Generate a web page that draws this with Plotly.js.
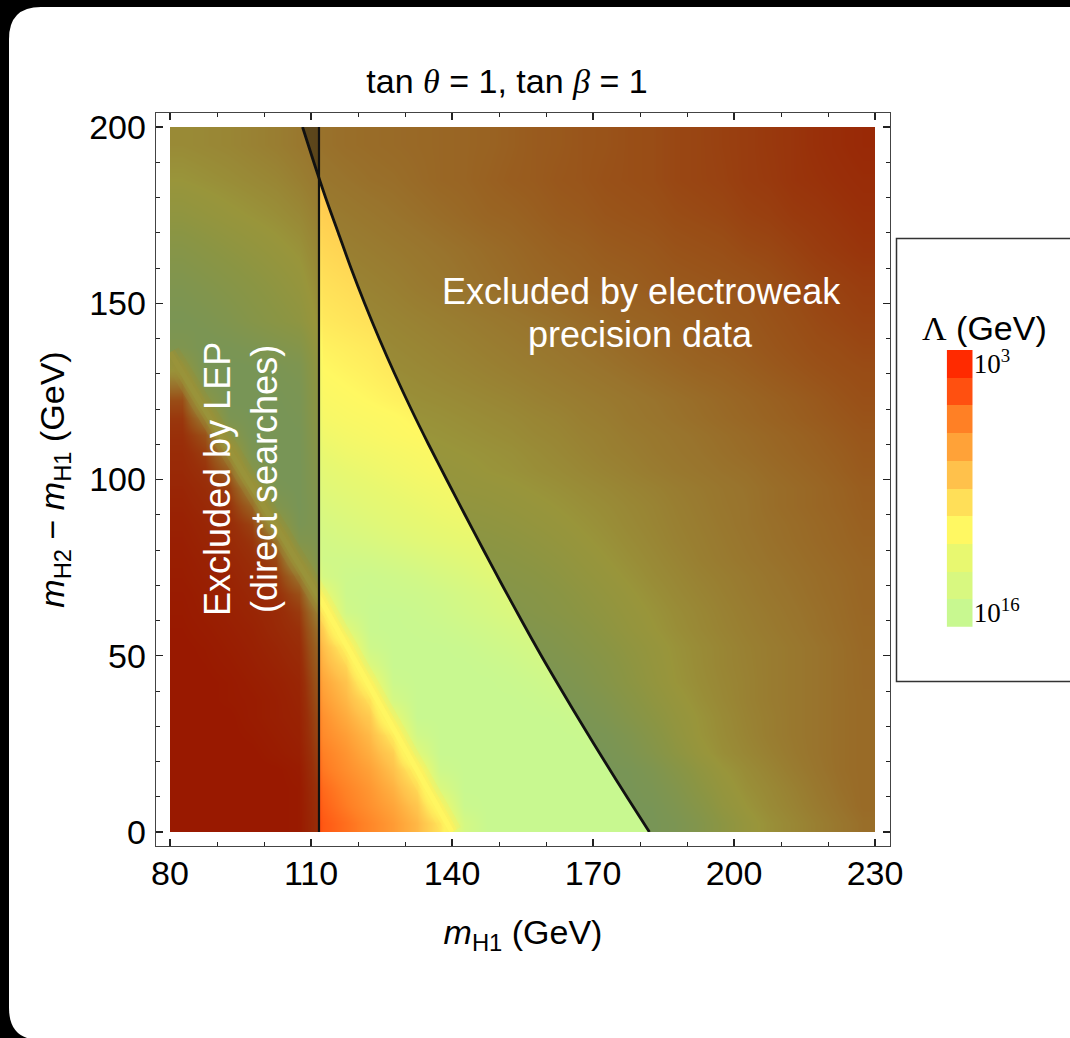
<!DOCTYPE html>
<html>
<head>
<meta charset="utf-8">
<script src="https://cdn.plot.ly/plotly-3.0.1.min.js"></script>
<style>
html,body{margin:0;padding:0;background:#000;}
#chart{width:1070px;height:1038px;}
</style>
</head>
<body>
<div id="chart"></div>
<script>
// ---------------- data ----------------
// grid centres: m_H1 (GeV) and m_H2 - m_H1 (GeV)
const massH1 = [82.5,87.5,92.5,97.5,102.5,107.5,112.5,117.5,122.5,127.5,132.5,137.5,142.5,147.5,152.5,157.5,162.5,167.5,172.5,177.5,182.5,187.5,192.5,197.5,202.5,207.5,212.5,217.5,222.5,227.5];
const massSplit = [2.5,7.5,12.5,17.5,22.5,27.5,32.5,37.5,42.5,47.5,52.5,57.5,62.5,67.5,72.5,77.5,82.5,87.5,92.5,97.5,102.5,107.5,112.5,117.5,122.5,127.5,132.5,137.5,145,155,165,175,185,195];
// log10(Lambda/GeV) estimated from colours, one row per massSplit value
const lambdaExp = [
 [3.0,3.0,3.0,3.0,3.0,3.1, 4.6,5.1,5.7,6.3,7.2,9.0, 14.5,16,16,16,16,16,16,16, 16,15.2,13.8,11.9,10.5,9.6,8.9,8.3,7.7,7.2],
 [3.0,3.0,3.0,3.0,3.0,3.1, 4.8,5.4,6.0,6.6,7.7,11.0, 15.7,16,16,16,16,16,16,16, 15.8,14.6,12.9,11.1,10.0,9.2,8.6,8.0,7.45,7.0],
 [3.0,3.0,3.0,3.0,3.0,3.1, 5.0,5.6,6.2,7.0,8.5,13.8, 16,16,16,16,16,16,16,16, 15.3,13.9,12.0,10.6,9.6,9.0,8.4,7.8,7.3,7.0],
 [3.0,3.0,3.0,3.0,3.0,3.2, 5.3,5.9,6.5,7.5,9.7,15.4, 16,16,16,16,16,16,16, 15.8,14.7,13.0,11.3,10.1,9.3,8.7,8.1,7.6,7.2,7.0],
 [3.0,3.0,3.0,3.0,3.2,3.4, 5.5,6.1,6.9,8.1, 13.0,16,16,16,16,16,16,16, 15.9,15.0,13.5,11.8,10.4,9.5,8.9,8.4,7.9,7.5,7.2,7.0],
 [3.0,3.0,3.0,3.1,3.3,3.5, 5.8,6.4,7.3,9.3, 15.0,16,16,16,16,16,16, 15.9,15.5,14.4,12.8,11.2,10.0,9.3,8.7,8.2,7.8,7.5,7.2,7.0],
 [3.0,3.0,3.0,3.2,3.4,3.6, 6.0,6.8,7.9, 12.0,16,16,16,16,16,16, 15.9,15.5,14.7,13.4,12.0,10.8,9.9,9.2,8.6,8.2,7.8,7.5,7.2,7.0],
 [3.0,3.0,3.1,3.2,3.4,3.7, 6.3,7.2,8.8, 14.5,16,16,16,16,16,15.8,15.5, 15.0,14.0,12.7,11.4,10.4,9.6,9.0,8.5,8.1,7.8,7.5,7.2,7.0],
 [3.0,3.0,3.1,3.3,3.5,3.8, 6.6,7.6,10.8, 15.6,16,16,16,16,15.8,15.5,15.0, 14.3,13.2,12.0,10.9,10.0,9.4,8.9,8.5,8.1,7.8,7.5,7.2,6.95],
 [3.0,3.05,3.2,3.4,3.65,4.0, 7.0,8.4,13.6, 16,16,16,16,15.8,15.5,15.0, 14.5,13.8,12.8,11.7,10.7,9.9,9.3,8.8,8.45,8.1,7.8,7.5,7.2,6.95],
 [3.0,3.1,3.3,3.5,3.8,4.2, 7.4,9.6,15.3, 16,16,16,15.8,15.4,15.0,14.5, 13.9,13.1,12.2,11.3,10.5,9.8,9.25,8.8,8.4,8.1,7.8,7.5,7.2,6.9],
 [3.05,3.2,3.4,3.6,4.0,4.45, 8.1,12.8,15.9,16,15.9,15.7,15.3,14.9,14.4, 13.9,13.3,12.5,11.6,10.8,10.1,9.5,9.0,8.6,8.25,7.95,7.65,7.35,7.1,6.85],
 [3.1,3.3,3.5,3.75,4.1,4.8, 9.2,15.0,15.9,16,15.7,15.3,14.8,14.3,13.7, 13.2,12.6,11.9,11.2,10.5,9.9,9.35,8.9,8.5,8.15,7.85,7.55,7.3,7.05,6.8],
 [3.15,3.35,3.6,3.9,4.35,5.6, 11.8,15.5,15.7,15.6,15.4,15.0,14.4,13.9, 13.2,12.8,12.2,11.5,10.8,10.2,9.6,9.1,8.7,8.35,8.0,7.7,7.45,7.2,7.0,6.75],
 [3.25,3.45,3.7,4.1,4.7,7.5, 14.5,15.4,15.5,15.2,14.8,14.2,13.7,13.0, 12.65,12.25,11.65,11.0,10.4,9.85,9.3,8.9,8.5,8.2,7.9,7.6,7.35,7.15,6.95,6.72],
 [3.3,3.55,3.85,4.3,5.3,11.0, 15.0,15.0,14.8,14.4,13.9,13.4,12.9, 12.4,12.1,11.7,11.2,10.6,10.05,9.55,9.1,8.7,8.3,8.0,7.7,7.45,7.25,7.05,6.85,6.65],
 [3.4,3.7,4.05,4.6,6.9,14.0, 14.7,14.3,13.9,13.4,12.9,12.5,12.1, 11.9,11.6,11.2,10.7,10.2,9.75,9.3,8.9,8.5,8.2,7.9,7.6,7.35,7.15,6.95,6.75,6.55],
 [3.5,3.8,4.2,5.1,10.5,15.5, 14.2,13.7,13.2,12.7,12.3,11.9,11.6, 11.4,11.1,10.7,10.3,9.9,9.5,9.1,8.75,8.4,8.1,7.8,7.5,7.3,7.1,6.9,6.7,6.45],
 [3.65,4.0,4.5,6.6,13.8,16, 13.6,13.1,12.6,12.2,11.8,11.4, 11.1,10.9,10.6,10.3,9.95,9.6,9.3,8.95,8.65,8.3,8.0,7.7,7.5,7.2,7.0,6.8,6.6,6.35],
 [3.8,4.2,5.0,8.9,15.5,16, 13.0,12.5,12.1,11.7,11.3,11.0, 10.6,10.45,10.2,9.9,9.6,9.3,9.0,8.7,8.45,8.15,7.9,7.65,7.45,7.2,7.0,6.8,6.55,6.3],
 [4.0,4.5,6.3,13.2,16,16, 12.5,12.0,11.6,11.2,10.85,10.5, 10.3,10.0,9.8,9.5,9.25,8.95,8.65,8.4,8.1,7.85,7.65,7.45,7.3,7.05,6.85,6.65,6.4,6.15],
 [4.15,4.9,8.3,15.2,16,16, 11.9,11.4,11.1,10.8,10.5, 10.2,10.0,9.8,9.6,9.3,9.0,8.7,8.4,8.2,7.9,7.7,7.5,7.3,7.1,6.9,6.7,6.5,6.3,6.05],
 [4.4,5.7,12.3,16,16,15.9, 11.3,10.9,10.6,10.3,10.05, 9.9,9.7,9.5,9.3,9.0,8.8,8.5,8.3,8.0,7.8,7.6,7.4,7.2,7.0,6.8,6.6,6.4,6.15,5.95],
 [4.7,8.0,15.0,16,16,15.7, 10.8,10.5,10.3,10.1,9.8, 9.65,9.45,9.25,9.05,8.8,8.6,8.3,8.1,7.8,7.6,7.4,7.2,7.0,6.8,6.6,6.4,6.2,6.0,5.8],
 [5.5,11.8,16,16,15.9,15.5, 10.45,10.2,9.95,9.7, 9.5,9.35,9.15,8.95,8.75,8.5,8.3,8.1,7.9,7.7,7.5,7.3,7.1,6.9,6.7,6.5,6.3,6.1,5.85,5.65],
 [7.7,14.7,16,16,15.7,15.2, 10.2,9.95,9.7,9.45, 9.25,9.05,8.85,8.65,8.45,8.25,8.05,7.85,7.65,7.45,7.25,7.05,6.85,6.7,6.5,6.3,6.1,5.9,5.7,5.55],
 [11.0,16,16,15.8,15.3,14.7, 9.95,9.7,9.5, 9.2,9.0,8.8,8.6,8.4,8.2,8.0,7.8,7.6,7.4,7.2,7.0,6.8,6.6,6.5,6.3,6.1,5.9,5.7,5.55,5.45],
 [14.5,15.7,15.5,15.0,14.2,13.4, 9.7,9.5,9.3, 9.0,8.8,8.6,8.4,8.2,8.0,7.8,7.6,7.4,7.2,7.0,6.8,6.6,6.45,6.3,6.15,5.95,5.75,5.55,5.45,5.3],
 [15.5,15.0,14.2,13.2,12.3,11.5, 9.3,9.1,8.9, 8.7,8.5,8.3,8.1,7.9,7.7,7.5,7.3,7.1,6.9,6.7,6.6,6.4,6.3,6.1,6.0,5.8,5.6,5.4,5.25,5.1],
 [14.5,13.8,13.0,12.2,11.4,10.6, 8.9,8.7, 8.5,8.3,8.0,7.8,7.5,7.3,7.1,6.9,6.8,6.6,6.5,6.4,6.2,6.1,6.0,5.9,5.8,5.6,5.4,5.2,5.05,4.9],
 [13.0,12.3,11.6,11.0,10.4,9.8, 8.5,8.3, 8.1,7.9,7.7,7.5,7.3,7.1,6.9,6.7,6.5,6.4,6.2,6.1,6.0,5.8,5.7,5.6,5.4,5.3,5.1,4.9,4.75,4.6],
 [11.3,10.8,10.3,9.9,9.5,9.0, 8.1, 7.9,7.7,7.5,7.3,7.1,6.9,6.7,6.6,6.4,6.2,6.1,5.9,5.8,5.7,5.5,5.4,5.3,5.1,5.0,4.8,4.7,4.55,4.4],
 [10.0,9.7,9.4,9.1,8.8,8.3, 7.7,7.5,7.3,7.2,7.0,6.8,6.7,6.5,6.3,6.2,6.0,5.9,5.7,5.6,5.5,5.3,5.2,5.1,4.9,4.8,4.6,4.5,4.35,4.2],
 [9.2,9.0,8.8,8.5,8.2,7.8, 7.4,7.2,7.1,7.0,6.9,6.8,6.7,6.6,6.4,6.2,6.1,5.9,5.8,5.6,5.5,5.3,5.2,5.05,4.9,4.75,4.6,4.4,4.2,4.0]
];
// legend blocks: log10(Lambda) level of each block and its colour (top = 10^3)
const lambdaLevels = [3, 4.4, 5.5, 6.5, 7.5, 8.8, 10, 12, 14, 16];
const levelColors = ['#ff2a00','#ff5010','#ff8025','#ffa238','#ffc14b','#ffdf58','#fff862','#e8f870','#d8f880','#c8f890'];
const legendTickText = ['10<sup>3</sup>', '10<sup>16</sup>'];
// LEP direct-search limit on m_H1 (GeV)
const lepLimit = 111.7;
// electroweak precision boundary (m_H1, m_H2 - m_H1)
const ewBoundaryX = [182.0,177.2,172.5,167.9,163.4,159.0,154.8,150.7,146.7,142.75,138.85,135.0,131.3,127.8,124.5,121.4,118.5,115.8,113.1,110.6,108.2];
const ewBoundaryY = [0,10,20,30,40,50,60,70,80,90,100,110,120,130,140,150,160,170,180,190,200];
// yellow ridge where Lambda jumps from low to high values
const ridgeX = [80, 112, 140];
const ridgeY = [136, 66, 0];
// plotted region
const regionX = [80, 230];
const regionY = [0, 200];
const xTickVals = [80, 110, 140, 170, 200, 230];
const yTickVals = [0, 50, 100, 150, 200];

// ---------------- layout helpers (pixels -> paper fractions) ----------------
const W = 1070, H = 1038;
const fx = p => p / W;
const fy = p => 1 - p / H;
const P = (x, y) => fx(x) + ',' + fy(y);

const zMin = lambdaLevels[0], zMax = lambdaLevels[lambdaLevels.length - 1];
const colorscale = lambdaLevels.map((v, i) => [(v - zMin) / (zMax - zMin), levelColors[i]]);

// frame and data area in pixels
const frame = {l: 156, r: 890, t: 113, b: 846};
const dataPx = {l: 170, r: 875, t: 127, b: 832};
const xPerPx = (regionX[1] - regionX[0]) / (dataPx.r - dataPx.l);
const yPerPx = (regionY[1] - regionY[0]) / (dataPx.b - dataPx.t);

const D = {xaxis: 'x3', yaxis: 'y3', hoverinfo: 'skip'};   // data subplot (clipped to the data area)
const traces = [];
// frame subplot placeholder
traces.push({type: 'scatter', mode: 'markers', x: [null], y: [null], xaxis: 'x', yaxis: 'y', hoverinfo: 'skip'});
traces.push(Object.assign({
  type: 'heatmap', x: massH1, y: massSplit, z: lambdaExp,
  zmin: zMin, zmax: zMax, colorscale: colorscale, zsmooth: 'best', showscale: false
}, D));
// soft yellow ridge (drawn under the exclusion shading)
[[20, 'rgba(255,232,88,0.28)'], [11, 'rgba(255,240,92,0.55)'], [5, 'rgba(255,246,98,0.9)']].forEach(([w, c]) => {
  traces.push(Object.assign({type: 'scatter', mode: 'lines', x: ridgeX, y: ridgeY, line: {color: c, width: w}}, D));
});
// LEP excluded shading
traces.push(Object.assign({
  type: 'scatter', mode: 'lines',
  x: [regionX[0], lepLimit, lepLimit, regionX[0]],
  y: [regionY[0], regionY[0], regionY[1], regionY[1]],
  fill: 'toself', fillcolor: 'rgba(0,0,0,0.4)', line: {width: 0}
}, D));
// EW excluded shading
traces.push(Object.assign({
  type: 'scatter', mode: 'lines',
  x: ewBoundaryX.concat([regionX[1], regionX[1]]),
  y: ewBoundaryY.concat([regionY[1], regionY[0]]),
  fill: 'toself', fillcolor: 'rgba(0,0,0,0.4)', line: {width: 0}
}, D));
// boundary lines
traces.push(Object.assign({
  type: 'scatter', mode: 'lines',
  x: ewBoundaryX, y: ewBoundaryY, line: {color: '#111', width: 2.8, shape: 'spline', smoothing: 0.8}
}, D));
traces.push(Object.assign({
  type: 'scatter', mode: 'lines',
  x: [lepLimit, lepLimit], y: regionY, line: {color: '#111', width: 2.2}
}, D));
// legend colour blocks
traces.push({
  type: 'heatmap', x: ['c'], y: lambdaLevels.map(v => 'L' + v),
  z: lambdaLevels.map(v => [v]), zmin: zMin, zmax: zMax, colorscale: colorscale,
  showscale: false, hoverinfo: 'skip', xaxis: 'x2', yaxis: 'y2', xgap: 0, ygap: 0
});

const sans = 'Liberation Sans, Arial, Helvetica, sans-serif';
const serif = 'Liberation Serif, Times New Roman, serif';

const r = 32, cx0 = 9, cy0 = 7, cx1 = 1100, cy1 = 1040;
const cardPath = 'M' + P(cx0 + r, cy0) + ' L' + P(cx1 - r, cy0) + ' Q' + P(cx1, cy0) + ' ' + P(cx1, cy0 + r) +
  ' L' + P(cx1, cy1 - r) + ' Q' + P(cx1, cy1) + ' ' + P(cx1 - r, cy1) +
  ' L' + P(cx0 + r, cy1) + ' Q' + P(cx0, cy1) + ' ' + P(cx0, cy1 - r) +
  ' L' + P(cx0, cy0 + r) + ' Q' + P(cx0, cy0) + ' ' + P(cx0 + r, cy0) + ' Z';

const layout = {
  width: W, height: H,
  margin: {l: 0, r: 0, t: 0, b: 0, pad: 0},
  paper_bgcolor: '#000', plot_bgcolor: '#fff',
  showlegend: false,
  font: {family: sans, color: '#000', size: 34},
  title: {
    text: 'tan <span style="font-family:Liberation Serif"><i>θ</i></span> = 1, tan <span style="font-family:Liberation Serif"><i>β</i></span> = 1',
    x: fx(507), y: fy(80.7), xref: 'container', yref: 'container',
    xanchor: 'center', yanchor: 'middle', font: {family: sans, size: 34, color: '#000'}
  },
  xaxis: {
    domain: [fx(frame.l), fx(frame.r)],
    range: [regionX[0] - (dataPx.l - frame.l) * xPerPx, regionX[1] + (frame.r - dataPx.r) * xPerPx],
    tickmode: 'array', tickvals: xTickVals,
    ticks: 'inside', ticklen: 7, tickwidth: 1.2, tickcolor: '#222',
    minor: {tickmode: 'linear', tick0: regionX[0], dtick: 10, ticks: 'inside', ticklen: 4, tickwidth: 1, tickcolor: '#222', showgrid: false},
    showline: true, linecolor: '#444', linewidth: 1.3, mirror: 'ticks',
    showgrid: false, zeroline: false, fixedrange: true,
    tickfont: {size: 34, family: sans}, ticklabelstandoff: -3,
    title: {text: '<i>m</i><sub>H1</sub> (GeV)', font: {size: 34, family: sans}, standoff: 29},
    anchor: 'y'
  },
  yaxis: {
    domain: [fy(frame.b), fy(frame.t)],
    range: [regionY[0] - (frame.b - dataPx.b) * yPerPx, regionY[1] + (dataPx.t - frame.t) * yPerPx],
    tickmode: 'array', tickvals: yTickVals,
    ticks: 'inside', ticklen: 7, tickwidth: 1.2, tickcolor: '#222',
    minor: {tickmode: 'linear', tick0: regionY[0], dtick: 10, ticks: 'inside', ticklen: 4, tickwidth: 1, tickcolor: '#222', showgrid: false},
    showline: true, linecolor: '#444', linewidth: 1.3, mirror: 'ticks',
    showgrid: false, zeroline: false, fixedrange: true,
    tickfont: {size: 34, family: sans}, ticklabelstandoff: 2,
    title: {text: '<i>m</i><sub>H2</sub> − <i>m</i><sub>H1</sub> (GeV)', font: {size: 34, family: sans}, standoff: 14},
    anchor: 'x'
  },
  xaxis3: {
    domain: [fx(dataPx.l), fx(dataPx.r)], range: regionX, anchor: 'y3',
    visible: false, fixedrange: true
  },
  yaxis3: {
    domain: [fy(dataPx.b), fy(dataPx.t)], range: regionY, anchor: 'x3',
    visible: false, fixedrange: true
  },
  xaxis2: {
    domain: [fx(946.7), fx(972.7)], anchor: 'y2', visible: false, fixedrange: true
  },
  yaxis2: {
    domain: [fy(626.7), fy(350)], anchor: 'x2', side: 'right', type: 'category',
    autorange: 'reversed', showline: false, ticks: '', showgrid: false, zeroline: false,
    tickmode: 'array',
    tickvals: ['L' + lambdaLevels[0], 'L' + lambdaLevels[lambdaLevels.length - 1]],
    ticktext: legendTickText, ticklabelstandoff: 0,
    tickfont: {family: serif, size: 27, color: '#000'}, fixedrange: true
  },
  shapes: [
    {type: 'path', xref: 'paper', yref: 'paper', path: cardPath, fillcolor: '#fff', line: {width: 0}, layer: 'below'},
    {type: 'rect', xref: 'paper', yref: 'paper', x0: fx(896.5), x1: fx(1090), y0: fy(681.5), y1: fy(238.5),
     line: {color: '#333', width: 1.5}, fillcolor: 'rgba(0,0,0,0)', layer: 'above'}
  ],
  annotations: [
    {text: 'Excluded by electroweak', x: fx(641), y: fy(291.5), xref: 'paper', yref: 'paper',
     showarrow: false, xanchor: 'center', yanchor: 'middle', font: {size: 36, color: '#fff', family: sans}},
    {text: 'precision data', x: fx(640), y: fy(334.5), xref: 'paper', yref: 'paper',
     showarrow: false, xanchor: 'center', yanchor: 'middle', font: {size: 36, color: '#fff', family: sans}},
    {text: 'Excluded by LEP<br>(direct searches)', x: fx(241), y: fy(479), xref: 'paper', yref: 'paper',
     showarrow: false, xanchor: 'center', yanchor: 'middle', textangle: -90, font: {size: 36, color: '#fff', family: sans}},
    {text: '<span style="font-family:Liberation Serif">Λ</span> (GeV)', x: fx(984), y: fy(328), xref: 'paper', yref: 'paper',
     showarrow: false, xanchor: 'center', yanchor: 'middle', font: {size: 34, color: '#000', family: sans}}
  ]
};

Plotly.newPlot('chart', traces, layout, {staticPlot: true, displayModeBar: false});
</script>
</body>
</html>
